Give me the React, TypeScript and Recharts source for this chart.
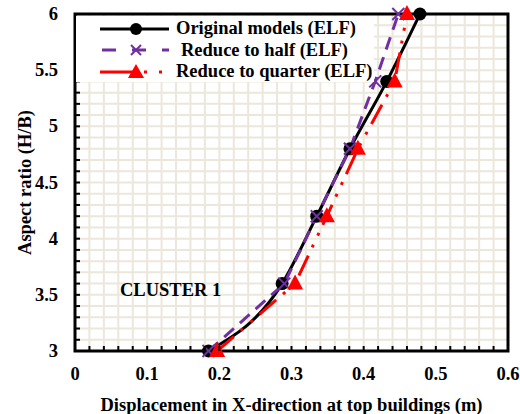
import React from 'react';
import {
  LineChart,
  Line,
  XAxis,
  YAxis,
  CartesianGrid,
  ReferenceArea,
} from 'recharts';

// Aspect ratio (H/B) for each point, shared by all three series
const aspectRatio = [3, 3.6, 4.2, 4.8, 5.4, 6];

// Displacement at top (m)
const originalElf = [0.185, 0.287, 0.335, 0.381, 0.432, 0.478];
const halfElf = [0.185, 0.29, 0.335, 0.381, 0.416, 0.448];
const quarterElf = [0.197, 0.305, 0.349, 0.392, 0.443, 0.46];

const seriesNames = ['Original models (ELF)', 'Reduce to half (ELF)', 'Reduce to quarter (ELF)'];

// minor ticks drive the dense grid, labels only on the major ones
const xTicks = Array.from({ length: 31 }, (_, i) => Math.round(i * 2) / 100);
const yTicks = Array.from({ length: 31 }, (_, i) => Math.round(30 + i) / 10);

const toPoints = (xs: number[]) => xs.map((x, i) => ({ x, y: aspectRatio[i] }));

const FONT = '"Liberation Serif", "Times New Roman", serif';
const PURPLE = '#7030a0';
const RED = '#ff0000';
const GRID = '#ece7db';
const RED_DASH = '22 9 3 10 3 9';
const PURPLE_DASH = '13 8';

const fmt = (v: number) => (v === 0 ? '0' : String(Math.round(v * 100) / 100));

const XTick = (props: any) => {
  const { x, y, payload } = props;
  const v = payload.value;
  const major = Math.abs(v * 10 - Math.round(v * 10)) < 1e-6;
  return (
    <g>
      <line x1={x} x2={x} y1={y} y2={y - 5} stroke="#000" strokeWidth={2} />
      {major && (
        <text x={x} y={y + 29} textAnchor="middle" fontFamily={FONT} fontWeight="bold" fontSize={18.5} fill="#000">
          {fmt(v)}
        </text>
      )}
    </g>
  );
};

const YTick = (props: any) => {
  const { x, y, payload } = props;
  const v = payload.value;
  const major = Math.abs(v * 2 - Math.round(v * 2)) < 1e-6;
  return (
    <g>
      <line x1={x} x2={x + 5} y1={y} y2={y} stroke="#000" strokeWidth={2} />
      {major && (
        <text x={x - 17} y={y + 6} textAnchor="end" fontFamily={FONT} fontWeight="bold" fontSize={18.5} fill="#000">
          {fmt(v)}
        </text>
      )}
    </g>
  );
};

const Cross = (props: any) => {
  const { cx, cy } = props;
  if (cx == null || cy == null) return null;
  const s = 6;
  return (
    <g stroke={PURPLE} strokeWidth={2}>
      <line x1={cx - s} y1={cy - s} x2={cx + s} y2={cy + s} />
      <line x1={cx - s} y1={cy + s} x2={cx + s} y2={cy - s} />
    </g>
  );
};

const Tri = (props: any) => {
  const { cx, cy } = props;
  if (cx == null || cy == null) return null;
  return <path d={`M${cx},${cy - 9} L${cx + 8},${cy + 6} L${cx - 8},${cy + 6} Z`} fill={RED} />;
};

const Dot = (props: any) => {
  const { cx, cy } = props;
  if (cx == null || cy == null) return null;
  return <circle cx={cx} cy={cy} r={6.5} fill="#000" />;
};

const LegendRow = ({ kind, label, indent }: { kind: number; label: string; indent: number }) => (
  <div style={{ display: 'flex', alignItems: 'center', height: 21.5 }}>
    <svg width={100} height={20} style={{ flex: 'none' }}>
      {kind === 0 && (
        <g>
          <line x1={24} x2={93} y1={10} y2={10} stroke="#000" strokeWidth={3} />
          <circle cx={60} cy={10} r={6} fill="#000" />
        </g>
      )}
      {kind === 1 && (
        <g>
          <line x1={24} x2={93} y1={10} y2={10} stroke={PURPLE} strokeWidth={3} strokeDasharray="14 16" strokeDashoffset={-2} />
          <g stroke={PURPLE} strokeWidth={2}>
            <line x1={55} y1={5} x2={65} y2={15} />
            <line x1={55} y1={15} x2={65} y2={5} />
          </g>
        </g>
      )}
      {kind === 2 && (
        <g>
          <line x1={24} x2={60} y1={10} y2={10} stroke={RED} strokeWidth={3} />
          <line x1={68} x2={71} y1={10} y2={10} stroke={RED} strokeWidth={3} />
          <line x1={83} x2={86} y1={10} y2={10} stroke={RED} strokeWidth={3} />
          <path d="M60,2 L68,16 L52,16 Z" fill={RED} />
        </g>
      )}
    </svg>
    <span style={{ marginLeft: indent, fontFamily: FONT, fontWeight: 'bold', fontSize: 18.5, whiteSpace: 'nowrap' }}>
      {label}
    </span>
  </div>
);

export default function App() {
  return (
    <div style={{ position: 'absolute', left: 0, top: 0, width: 520, height: 414, background: '#fff' }}>
      <LineChart width={520} height={414} margin={{ top: 14, right: 12, left: 0, bottom: 0 }}>
        <CartesianGrid stroke={GRID} strokeWidth={2} />
        <XAxis
          dataKey="x"
          type="number"
          domain={[0, 0.6]}
          ticks={xTicks}
          interval={0}
          height={63}
          axisLine={false}
          tickLine={false}
          tickSize={0}
          tickMargin={0}
          tick={<XTick />}
          label={{
            value: 'Displacement in X-direction at top buildings (m)',
            position: 'insideBottom',
            offset: 3,
            style: { fontFamily: FONT, fontWeight: 'bold', fontSize: 18.5, fill: '#000' },
          }}
        />
        <YAxis
          dataKey="y"
          type="number"
          domain={[3, 6]}
          ticks={yTicks}
          interval={0}
          width={75}
          axisLine={false}
          tickLine={false}
          tickSize={0}
          tickMargin={0}
          tick={<YTick />}
          label={{
            value: 'Aspect ratio (H/B)',
            angle: -90,
            position: 'insideLeft',
            offset: 24,
            style: { textAnchor: 'middle', fontFamily: FONT, fontWeight: 'bold', fontSize: 18.5, fill: '#000' },
          }}
        />
        <ReferenceArea x1={0} x2={0.6} y1={3} y2={6} fill="none" stroke="#000" strokeWidth={3} ifOverflow="visible" />
        <Line
          data={toPoints(originalElf)}
          dataKey="y"
          name={seriesNames[0]}
          type="monotone"
          stroke="#000"
          strokeWidth={3}
          dot={<Dot />}
          isAnimationActive={false}
        />
        <Line
          data={toPoints(halfElf)}
          dataKey="y"
          name={seriesNames[1]}
          type="linear"
          stroke={PURPLE}
          strokeWidth={3}
          strokeDasharray={PURPLE_DASH}
          dot={<Cross />}
          isAnimationActive={false}
        />
        <Line
          data={toPoints(quarterElf)}
          dataKey="y"
          name={seriesNames[2]}
          type="linear"
          stroke={RED}
          strokeWidth={3}
          strokeDasharray={RED_DASH}
          dot={<Tri />}
          isAnimationActive={false}
        />
      </LineChart>
      <div
        style={{
          position: 'absolute',
          left: 76,
          top: 16,
          width: 298,
          height: 64,
          background: '#fff',
          paddingTop: 2,
        }}
      >
        {seriesNames.map((n, i) => (
          <LegendRow key={n} kind={i} label={n} indent={i === 1 ? 5 : 0} />
        ))}
      </div>
      <div
        style={{
          position: 'absolute',
          left: 120,
          top: 280,
          fontFamily: FONT,
          fontWeight: 'bold',
          fontSize: 18.5,
          whiteSpace: 'nowrap',
        }}
      >
        CLUSTER 1
      </div>
    </div>
  );
}
